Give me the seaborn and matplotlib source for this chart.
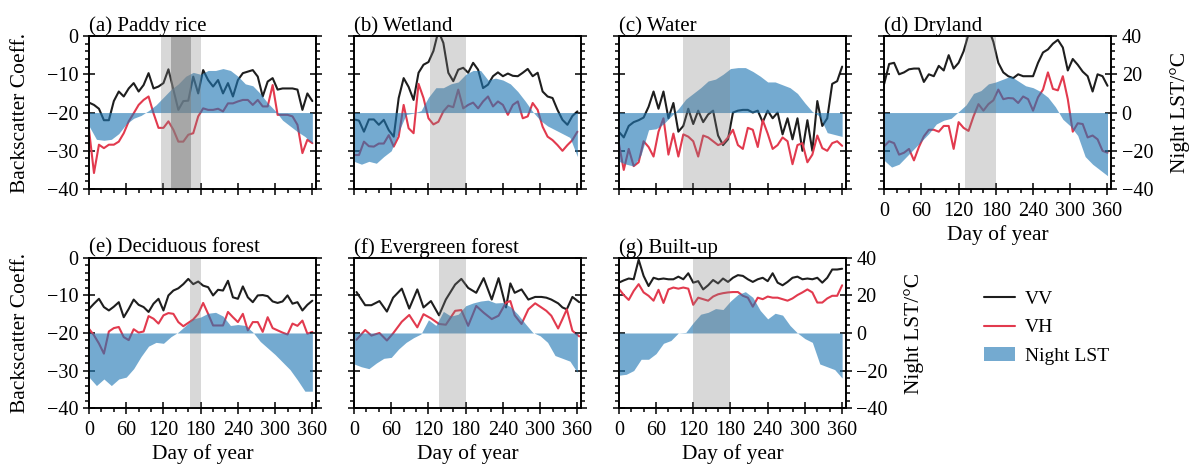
import matplotlib
matplotlib.use('Agg')
import matplotlib.pyplot as plt
import seaborn as sns
from matplotlib.ticker import MultipleLocator
from matplotlib.lines import Line2D
from matplotlib.patches import Patch

# ---------------- data ----------------
DOY8 = [0, 8, 16, 24, 32, 40, 48, 56, 64, 72, 80, 88, 96, 104, 112, 120, 128, 136, 144, 152,
        160, 168, 176, 184, 192, 200, 208, 216, 224, 232, 240, 248, 256, 264, 272, 280, 288,
        296, 304, 312, 320, 328, 336, 344, 352, 360]
DOY12 = [0, 12, 24, 36, 48, 60, 72, 84, 96, 108, 120, 132, 144, 156, 168, 180, 192, 204, 216,
         228, 240, 252, 264, 276, 288, 300, 312, 324, 336, 348, 360]
DOY_F = [4, 18, 28, 41, 53, 63, 77, 89, 102, 112, 124, 137, 148, 163, 173, 184, 197, 209, 222,
         233, 245, 252, 259, 270, 281, 292, 302, 310, 318, 329, 336, 343, 352, 363]

VV_A = [-17.4, -18, -19, -22, -22, -17, -14.5, -15.8, -13.7, -12.3, -14.5, -12.8, -9.7, -13.7, -13.2,
        -12.3, -8.7, -14, -19.3, -17, -16.9, -10.6, -15, -8.9, -11.5, -13.2, -11.5, -15, -12.3, -15.8,
        -11.5, -9.7, -9.3, -8.9, -10.6, -15.8, -11.9, -11, -14, -13.7, -13.7, -13.7, -14, -19.3, -15, -17]
VH_A = [-24.5, -35.8, -28.4, -29.3, -28.4, -28.4, -27.6, -25.4, -22.3, -20.2, -18, -16.7, -15.8, -20.2,
        -24, -24, -22.3, -24.5, -27.6, -27.6, -25.8, -25.4, -21, -18.9, -19.3, -19.3, -19, -19.7, -17.6,
        -17.6, -17.1, -16.7, -16.7, -18, -16.7, -18.4, -18.4, -12.8, -20.6, -20.6, -20.6, -21, -23.2,
        -30.6, -27.1, -28]
LST_A = [-7, -14, -14.5, -14, -11, -6, -3, -1.5, 1, 4, 8, 12, 15, 19, 21, 20, 22, 22, 23, 22, 19, 15,
         14, 10, 5, 1, -4, -7, -10, -12.5, -16]

VV_B = [-21.8, -22.1, -25, -21.8, -21.8, -23.2, -21.9, -24.6, -26.3, -16.2, -11, -13.3, -16.7, -9.6,
        -7.5, -6.8, -3.9, 1.3, -1.8, -9.6, -11.8, -8.8, -8.3, -9.6, -7, -8.8, -13.6, -12.7, -10.5, -9.5,
        -10.5, -9.8, -10.4, -10.5, -9.6, -8.6, -10.5, -9.6, -14.5, -15.8, -16.2, -19.3, -21.9, -23.2,
        -20.9, -19.7]
VH_B = [-31.1, -31.1, -27.6, -28.8, -28.9, -28.1, -28.1, -25.9, -28.9, -26.3, -18, -24.1, -25.4, -12.5,
        -16.2, -21.5, -23.1, -22.4, -19.7, -18.2, -18.6, -14, -18.9, -18, -17.4, -18.9, -17.1, -15.8,
        -18.4, -17.1, -18, -20.6, -18, -17.1, -21.5, -21, -17.5, -19.3, -23.7, -26.3, -27.2, -28.5, -30,
        -28.5, -27.2, -25]
LST_B = [-25.5, -27, -25.5, -26.5, -23, -20, -10, -1, -0.3, 1, 8, 13, 13, 15, 16, 20, 22, 22, 17, 18,
         17, 15, 11, 6, 0.5, -4, -7, -9, -11, -13, -23]

VV_C = [-25, -26.5, -23.5, -22.5, -22, -21.3, -18.5, -14.5, -19, -14.5, -21.5, -17.5, -25, -23.5, -19,
        -23, -19.5, -22.5, -20.5, -19.5, -26, -28.5, -27, -20, -19.5, -19.3, -19.3, -20, -19.5, -22.5,
        -19.5, -21.5, -20, -25.7, -21.5, -27, -21.5, -30, -22, -30, -17, -23.5, -21.5, -12.5, -11.8, -8]
VH_C = [-28, -35, -29.5, -34, -33, -27.5, -29, -31.5, -25, -21.5, -31, -25.5, -31.5, -25.7, -26.3, -27.5,
        -31.5, -26, -26.5, -27.5, -28.5, -28, -26.5, -24.5, -28.5, -29.5, -24, -24.5, -29, -22, -25.5,
        -29.5, -28.5, -26.5, -27.5, -33.5, -28.5, -28, -33, -31, -26, -29.3, -30, -28, -27.5, -28.7]
LST_C = [-25.5, -27, -28, -22, -9, -8.5, -6, -2, 2, 7, 10, 13, 16.5, 17.5, 20, 23, 23.5, 23.5, 21.5, 19,
         16, 16, 14.5, 13, 10, 5, 0.5, -2, -10.5, -11.5, -12.5]

VV_D = [-12.5, -7.3, -7, -10, -9.5, -8.7, -8.5, -8.5, -12, -10, -10.5, -7.8, -9, -5, -8.5, -7, -4, 0.5,
        3, 3, 3, 2, -1.5, -7, -9.5, -10.5, -11, -10, -10.5, -10.5, -10.5, -7, -4.3, -3.5, -2, -1, -3,
        -9, -6, -7.5, -9.3, -10.5, -14.5, -10, -10.5, -13]
VH_D = [-28.8, -27.5, -28, -31, -30.5, -29.5, -32.5, -29, -26.2, -24.5, -24.5, -25, -23.5, -23.5, -29.5,
        -22.5, -24, -24.8, -21, -17.8, -19.5, -17.8, -16.8, -14, -16.5, -16.2, -16.3, -17.5, -15.8,
        -16.5, -19.5, -16, -14, -9.5, -13.8, -14.2, -10.5, -16.5, -25, -22.8, -23, -26.5, -26, -27, -30,
        -30.5]
LST_D = [-25, -28.5, -27, -23, -19, -15, -11, -6, -4, -3, 0.5, 4, 10, 11.5, 15, 16, 17.5, 19, 16.5, 14,
         13, 11, 8, 3, -3.5, -7, -12, -23, -27, -30, -33]

VV_E = [-13.6, -12.2, -10.9, -13.1, -14, -13, -11.8, -15.8, -13.6, -11.1, -12.5, -13.1, -14.4, -12.2,
        -10.9, -14, -10, -8.7, -8.1, -7, -5.6, -7, -6.3, -7.4, -7.8, -10, -8.5, -8.7, -6.1, -10.5, -10.9,
        -7.6, -10.5, -11.8, -10, -9.9, -10.2, -11.6, -12, -11.6, -10, -12.2, -11.8, -14, -12.5, -11.4]
VH_E = [-18.9, -20.6, -22.8, -25.5, -19.6, -18.7, -18.4, -21.1, -21.9, -19, -19.9, -19.6, -15.5, -16.2,
        -17.5, -15.3, -14.7, -14.9, -17.1, -18.2, -17.3, -16.4, -14.9, -12, -14.9, -18, -18, -18, -14.4,
        -15.8, -17.1, -14.9, -19.3, -17.1, -17.1, -19.7, -15.8, -18.7, -19.3, -19.9, -20.4, -17.5,
        -18.1, -16.7, -20.2, -19.7]
LST_E = [-23.5, -28, -24.5, -28, -24.5, -23.5, -19, -12.5, -7, -5, -5.5, -2, 0.5, 4, 7.5, 8.5, 10.5, 11,
         9, 4, 4.5, 4, 0.5, -4.5, -8, -11.5, -15.5, -19.5, -25, -31, -31]

VV_F = [-9.1, -12.6, -12.6, -11.5, -14.3, -10.6, -8.2, -13.5, -8.4, -13.2, -11.5, -15.3, -11.1, -7.1,
        -5.6, -8, -9.3, -5.4, -11.1, -5.4, -13.2, -6.8, -9.3, -8.4, -11.1, -10.4, -10.4, -10.6, -11.1,
        -12.1, -13.2, -13.7, -10.4, -11.8]
VH_F = [-21.8, -19.2, -20.7, -20, -22, -20.1, -17, -15.2, -18.5, -15, -16.1, -17.6, -17.8, -14.1, -13.9,
        -18.1, -12.8, -14.6, -16.3, -15.4, -11.9, -11.5, -15.3, -17.6, -13.7, -12.1, -13.2, -14.1,
        -15.4, -18.8, -16.3, -13.7, -19.4, -20.9]
LST_F = [-16.5, -18, -19, -16, -13.5, -13, -8.5, -5, -2.5, -0.5, 7, 4, 11.5, 9, 10, 14.5, 16, 17, 17.5,
         16, 16.2, 14, 10, 5, 0.3, -1.5, -5, -12, -13.5, -15, -21]

VV_G = [-6.6, -6, -5.5, -5.7, -0.5, -4.8, -7.5, -5.3, -5.7, -5.5, -5.7, -5.7, -5, -5.7, -4.1, -6.6, -6.2,
        -8.4, -7.3, -5.9, -6.8, -5.5, -6.4, -5.3, -4.6, -4.8, -5.7, -6.4, -5.7, -5.3, -6.2, -4.1, -6.6,
        -7.3, -6.4, -5.3, -5, -5.7, -5.5, -5.7, -5.3, -6.6, -5.3, -3.1, -3.1, -2.9]
VH_G = [-8.2, -9.9, -11.2, -8.8, -7, -9.2, -10.1, -11.4, -8.5, -12, -8.4, -7.9, -8.2, -7.9, -8.2, -12.5,
        -10.6, -11, -11.4, -10.3, -9.7, -9.4, -9.2, -9.1, -9.1, -10.1, -10.6, -13, -10.6, -11, -10.3,
        -10.6, -10.6, -11, -11.4, -10.8, -9.9, -9.2, -8.4, -9.2, -11.9, -11.9, -10.8, -10.1, -10.1, -7.3]
LST_G = [-22.5, -22, -20, -14, -14, -11, -5.5, -4, 0, 0.3, 5.5, 10, 11, 13, 12.5, 17, 20.5, 22, 19, 12,
         7.5, 10.5, 9.5, 4, 0, -3, -5, -16.5, -18, -19.5, -24]

TITLES = ['(a) Paddy rice', '(b) Wetland', '(c) Water', '(d) Dryland',
          '(e) Deciduous forest', '(f) Evergreen forest', '(g) Built-up']
SPANS_LIGHT = [(116, 180), (123, 180), (104, 180), (131, 180), (163, 180), (137, 180), (120, 180)]
SPAN_DARK_A = (132, 165)

PANELS = [
    (DOY8, VV_A, VH_A, LST_A), (DOY8, VV_B, VH_B, LST_B), (DOY8, VV_C, VH_C, LST_C),
    (DOY8, VV_D, VH_D, LST_D), (DOY8, VV_E, VH_E, LST_E), (DOY_F, VV_F, VH_F, LST_F),
    (DOY8, VV_G, VH_G, LST_G),
]

# ---------------- style ----------------
sns.set_theme(style='ticks')
plt.rcParams['font.family'] = ['Liberation Serif', 'DejaVu Serif']
plt.rcParams.update({
    'axes.edgecolor': 'black', 'axes.labelcolor': 'black', 'text.color': 'black',
    'xtick.color': 'black', 'ytick.color': 'black', 'axes.linewidth': 1.2,
    'axes.unicode_minus': True,
})

VV_COLOR = '#1e1e1e'
VH_COLOR = '#e23a4e'
LST_COLOR = '#1f77b4'
LST_ALPHA = 0.62
TICK_FS = 14.5
LABEL_FS = 15.5


def style_ticks(a, axis, pad, **kw):
    a.tick_params(axis=axis, which='both', width=1.1, labelsize=TICK_FS, pad=pad, **kw)
    a.tick_params(axis=axis, which='major', direction='inout', length=8)
    a.tick_params(axis=axis, which='minor', direction='out', length=3)


fig = plt.figure(figsize=(11.9, 4.68), dpi=100)
LEFTS = [0.0748, 0.2975, 0.520, 0.743]
W = 0.1908
ROWS = [(0.596, 0.327), (0.128, 0.321)]
POS = [(0, 0), (0, 1), (0, 2), (0, 3), (1, 0), (1, 1), (1, 2)]
SHOW_X = [False, False, False, True, True, True, True]
SHOW_R = [False, False, False, True, False, False, True]

for i, (days, vv, vh, lst) in enumerate(PANELS):
    r, c = POS[i]
    b, h = ROWS[r]
    ax = fig.add_axes([LEFTS[c], b, W, h])
    sns.lineplot(x=days, y=vv, ax=ax, color=VV_COLOR, lw=1.5, sort=False, estimator=None)
    sns.lineplot(x=days, y=vh, ax=ax, color=VH_COLOR, lw=1.5, sort=False, estimator=None)
    ax.set_xlim(0, 366)
    ax.set_ylim(-40, 0)
    ax.xaxis.set_major_locator(MultipleLocator(60))
    ax.xaxis.set_minor_locator(MultipleLocator(20))
    ax.yaxis.set_major_locator(MultipleLocator(10))
    ax.yaxis.set_minor_locator(MultipleLocator(2))
    style_ticks(ax, 'x', 5, top=False, labelbottom=SHOW_X[i])
    style_ticks(ax, 'y', 3.5, right=False, labelleft=(c == 0))
    ax.set_xlabel('Day of year' if SHOW_X[i] else '', fontsize=LABEL_FS, labelpad=3)
    ax.set_ylabel('Backscatter Coeff.' if c == 0 else '', fontsize=LABEL_FS, labelpad=12)
    ax.set_title(TITLES[i], loc='left', fontsize=15, pad=3)

    ax2 = ax.twinx()
    ax2.fill_between(DOY12, 0, lst, color=LST_COLOR, alpha=LST_ALPHA, lw=0, interpolate=True)
    s, e = SPANS_LIGHT[i]
    ax2.axvspan(s, e, color='gray', alpha=0.3, lw=0)
    if i == 0:
        ax2.axvspan(SPAN_DARK_A[0], SPAN_DARK_A[1], color='gray', alpha=0.55, lw=0)
    ax2.set_ylim(-40, 40)
    ax2.set_xlim(0, 366)
    ax2.yaxis.set_major_locator(MultipleLocator(20))
    ax2.yaxis.set_minor_locator(MultipleLocator(4))
    style_ticks(ax2, 'y', 3.5, labelright=SHOW_R[i])
    if SHOW_R[i]:
        ax2.set_ylabel('Night LST/°C', fontsize=LABEL_FS, labelpad=12)
    for sp in ax2.spines.values():
        sp.set_linewidth(1.2)

handles = [Line2D([], [], color=VV_COLOR, lw=1.5, label='VV'),
           Line2D([], [], color=VH_COLOR, lw=1.5, label='VH'),
           Patch(facecolor=LST_COLOR, alpha=LST_ALPHA, lw=0, label='Night LST')]
fig.legend(handles=handles, loc='center left', bbox_to_anchor=(0.812, 0.30), frameon=False,
           fontsize=14, handlelength=1.6, handletextpad=0.5, labelspacing=0.55)

fig.savefig('out.png', dpi=100)
